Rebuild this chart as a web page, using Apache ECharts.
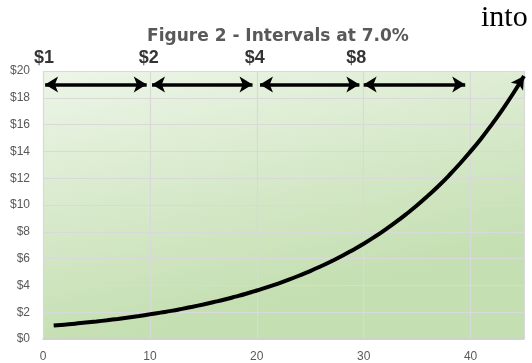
<!DOCTYPE html>
<html>
<head>
<meta charset="utf-8">
<script src="https://cdn.jsdelivr.net/npm/echarts@6/dist/echarts.min.js"></script>
<style>
  html, body { margin: 0; padding: 0; background: #fff; }
  #main { width: 532px; height: 363px; }
</style>
</head>
<body>
<div id="main"></div>
<script>
// value of $1 growing at 7.0%, one point per year starting at year 1
var growthValues = [1.00, 1.07, 1.14, 1.23, 1.31, 1.40, 1.50, 1.61, 1.72, 1.84,
                    1.97, 2.10, 2.25, 2.41, 2.58, 2.76, 2.95, 3.16, 3.38, 3.62,
                    3.87, 4.14, 4.43, 4.74, 5.07, 5.43, 5.81, 6.21, 6.65, 7.11,
                    7.61, 8.15, 8.72, 9.33, 9.98, 10.68, 11.42, 12.22, 13.08, 14.00,
                    14.97, 16.02, 17.14, 18.34, 19.63];
var firstYear = 1;

// doubling intervals drawn as double arrows
var intervalStart = [0.2, 10.2, 20.3, 30.0];
var intervalEnd = [9.7, 19.6, 29.6, 39.5];
var intervalLevel = 19;
var doublingLabels = ['$1', '$2', '$4', '$8'];
var doublingLabelX = [0.1, 9.9, 19.8, 29.3];
var doublingLabelY = 21;

var curveData = growthValues.map(function (v, i) {
  var p = { value: [firstYear + i, v] };
  if (i === growthValues.length - 1) {
    p.symbol = 'arrow';
    p.symbolSize = [11, 13];
    p.symbolRotate = -33;
  }
  return p;
});

var arrowLines = intervalStart.map(function (s, i) {
  return [{ coord: [s, intervalLevel] }, { coord: [intervalEnd[i], intervalLevel] }];
});

var labelData = doublingLabels.map(function (t, i) {
  return { value: [doublingLabelX[i], doublingLabelY], name: t };
});

var myChart = echarts.init(document.getElementById('main'));

var option = {
  animation: false,
  title: {
    text: 'Figure 2 - Intervals at 7.0%',
    left: 273,
    textAlign: 'center',
    top: 23,
    textStyle: {
      color: '#595959',
      fontFamily: 'DejaVu Sans',
      fontWeight: 'bold',
      fontSize: 17
    }
  },
  graphic: [{
    type: 'text',
    left: 481,
    top: 3,
    style: {
      text: 'into',
      fill: '#000',
      font: '30px "Liberation Serif"'
    }
  }],
  grid: {
    left: 43,
    right: 8,
    top: 71,
    bottom: 24,
    show: true,
    borderWidth: 0,
    backgroundColor: new echarts.graphic.LinearGradient(0, 0, 0.12, 1, [
      { offset: 0, color: '#edf5e8' },
      { offset: 1, color: '#c4dfb1' }
    ])
  },
  xAxis: {
    type: 'value',
    min: 0,
    max: 45,
    interval: 10,
    axisLine: { show: true, lineStyle: { color: '#d0d0d0', width: 1.5 } },
    axisTick: { show: false },
    axisLabel: {
      showMaxLabel: false,
      color: '#595959',
      fontSize: 12,
      fontFamily: 'Liberation Sans',
      margin: 12
    },
    splitLine: { show: true, lineStyle: { color: '#d9d9d9', width: 1.2 } }
  },
  yAxis: {
    type: 'value',
    min: 0,
    max: 20,
    interval: 2,
    axisLine: { show: false },
    axisTick: { show: false },
    axisLabel: {
      color: '#595959',
      fontSize: 12,
      fontFamily: 'Liberation Sans',
      margin: 13,
      formatter: function (v) { return '$' + v; }
    },
    splitLine: { show: true, lineStyle: { color: '#d9d9d9', width: 1.2 } }
  },
  series: [
    {
      type: 'line',
      data: curveData,
      smooth: true,
      showSymbol: true,
      symbol: 'none',
      lineStyle: { color: '#000', width: 4 },
      itemStyle: { color: '#000' },
      markLine: {
        silent: true,
        symbol: ['arrow', 'arrow'],
        symbolSize: [12, 13],
        label: { show: false },
        lineStyle: { color: '#000', width: 3.5, type: 'solid' },
        data: arrowLines
      }
    },
    {
      type: 'scatter',
      clip: false,
      symbolSize: 0,
      data: labelData,
      label: {
        show: true,
        position: 'inside',
        formatter: '{b}',
        color: '#000',
        fontFamily: '"Liberation Sans Narrow", "Liberation Sans"',
        fontWeight: 'bold',
        fontSize: 18
      }
    }
  ]
};

myChart.setOption(option);
</script>
</body>
</html>
